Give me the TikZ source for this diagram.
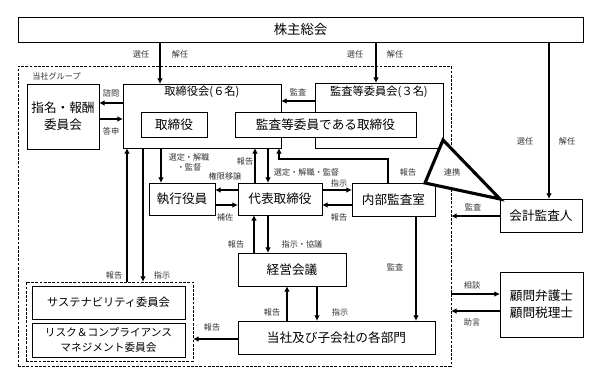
\documentclass[tikz,border=0pt]{standalone}
\usepackage{fontspec}
\setmainfont{Noto Sans CJK JP}
\usetikzlibrary{arrows.meta}

\begin{document}
\begin{tikzpicture}[x=0.025cm,y=-0.025cm,>={Latex[length=4pt,width=4pt]},
  sz/.style 2 args={minimum width=#1*0.025cm,minimum height=#2*0.025cm},
  box/.style={draw,line width=0.6pt,fill=white,inner sep=0pt,outer sep=0pt,align=center,font=\fontsize{9}{12}\selectfont},
  grp/.style={draw,line width=0.6pt,dash pattern=on 2pt off 1pt,inner sep=0pt,outer sep=0pt},
  arr/.style={->,line width=1.3pt},
  lbl/.style={inner sep=0pt,text=black!80,font=\fontsize{5.8}{7}\selectfont},
  ttl/.style={inner sep=0pt,font=\fontsize{8}{10}\selectfont}]
  \useasboundingbox (0,0) rectangle (600,375);
  % group frames
  \node[grp,sz={433}{300}] (grp) at (234.5,216) {};
  \node[lbl,anchor=west] (grpname) at (32,76) {当社グループ};
  % boxes
  \node[box,sz={565}{25},font=\fontsize{9.5}{12}\selectfont] (kabu) at (300.5,29.5) {株主総会};
  \node[box,sz={158}{64}] (torikai) at (202,116) {}; \node[ttl] (torikaittl) at (202,92) {取締役会(６名)};
  \node[box,sz={128}{65}] (kansakai) at (379,115.5) {}; \node[ttl] (kansakaittl) at (379,92) {監査等委員会(３名)};
  \node[box,sz={66}{25}] (tori) at (174,124.5) {取締役};
  \node[box,sz={181}{25}] (kansatori) at (325.5,124.5) {監査等委員である取締役};
  \node[box,sz={72}{65}] (shimei) at (63,116.5) {指名・報酬\\委員会};
  \node[box,sz={66}{32}] (shikkou) at (182,199) {執行役員};
  \node[box,sz={84}{32}] (daihyo) at (280,199) {代表取締役};
  \node[box,sz={83}{33}] (naibu) at (393.5,199.5) {内部監査室};
  \node[box,sz={82}{33}] (kaikei) at (541,215.5) {会計監査人};
  \node[box,sz={108}{33}] (keiei) at (292,269.5) {経営会議};
  \node[box,sz={197}{33}] (bumon) at (336.5,337.5) {当社及び子会社の各部門};
  \node[box,sz={83}{65}] (komon) at (541.5,304.5) {顧問弁護士\\顧問税理士};
  \node[grp,sz={167}{79}] (iinkai) at (109.5,321.5) {};
  \node[box,sz={153}{33},font=\fontsize{8}{10}\selectfont] (sust) at (108.5,302.5) {サステナビリティ委員会};
  \node[box,sz={153}{34},font=\fontsize{7.6}{10}\selectfont] (risk) at (108.5,340) {リスク＆コンプライアンス\\マネジメント委員会};
  % arrows from the shareholders
  \draw[arr] (kabu.south -| 160,0) -- (torikai.north -| 160,0);
  \node[lbl] (sen1) at (141,54) {選任}; \node[lbl] (kai1) at (180,54) {解任};
  \draw[arr] (kabu.south -| 376,0) -- (kansakai.north -| 376,0);
  \node[lbl] (sen2) at (355,54) {選任}; \node[lbl] (kai2) at (395,54) {解任};
  \draw[arr] (kabu.south -| 549,0) -- (kaikei.north -| 549,0);
  \node[lbl] (sen3) at (525,141) {選任}; \node[lbl] (kai3) at (567,141) {解任};
  % board
  \draw[arr] (kansakai.west |- 0,101) -- (torikai.east |- 0,101); \node[lbl] (kansa1) at (298,92) {監査};
  \draw[arr] (torikai.west |- 0,103) -- (shimei.east |- 0,103); \node[lbl] (shimon) at (111,93) {諮問};
  \draw[arr] (shimei.east |- 0,119) -- (torikai.west |- 0,119); \node[lbl] (toushin) at (111,131) {答申};
  \draw[arr] (torikai.south -| 161,0) -- (shikkou.north -| 161,0);
  \node[lbl,align=center] (sentei1) at (189,162) {選定・解職\\・監督};
  \draw[arr] (daihyo.north -| 255,0) -- (torikai.south -| 255,0); \node[lbl] (hou1) at (245,161) {報告};
  \draw[arr] (torikai.south -| 268,0) -- (daihyo.north -| 268,0); \node[lbl] (sentei2) at (306.5,172) {選定・解職・監督};
  \draw[arr] (naibu.north -| 388,0) |- (279,159) -- (torikai.south -| 279,0); \node[lbl] (hou2) at (408,172) {報告};
  % executives
  \draw[arr] (daihyo.west |- 0,190) -- (shikkou.east |- 0,190); \node[lbl] (kengen) at (225,176) {権限移譲};
  \draw[arr] (shikkou.east |- 0,205) -- (daihyo.west |- 0,205); \node[lbl] (hosa) at (225,217) {補佐};
  \draw[arr] (daihyo.east |- 0,190) -- (naibu.west |- 0,190); \node[lbl] (shiji1) at (339,183) {指示};
  \draw[arr] (naibu.west |- 0,205) -- (daihyo.east |- 0,205); \node[lbl] (hou3) at (339,217) {報告};
  \draw[arr] (keiei.north -| 254,0) -- (daihyo.south -| 254,0); \node[lbl] (hou4) at (236,244) {報告};
  \draw[arr] (daihyo.south -| 268,0) -- (keiei.north -| 268,0); \node[lbl] (kyogi) at (302,244) {指示・協議};
  \draw[arr] (bumon.north -| 287,0) -- (keiei.south -| 287,0); \node[lbl] (hou5) at (272,312) {報告};
  \draw[arr] (keiei.south -| 317,0) -- (bumon.north -| 317,0); \node[lbl] (shiji2) at (340,312) {指示};
  \draw[arr] (naibu.south -| 416,0) -- (bumon.north -| 416,0); \node[lbl] (kansa2) at (395,267) {監査};
  % committees
  \draw[arr] (bumon.west |- 0,339) -- (iinkai.east |- 0,339); \node[lbl] (hou6) at (212,327) {報告};
  \draw[arr] (iinkai.north -| 127,0) -- (torikai.south -| 127,0); \node[lbl] (hou7) at (114,275) {報告};
  \draw[arr] (torikai.south -| 143,0) -- (iinkai.north -| 143,0); \node[lbl] (shiji3) at (162,275) {指示};
  % outside
  \draw[arr] (kaikei.west |- 0,216) -- (grp.east |- 0,216); \node[lbl] (kansa3) at (473,207) {監査};
  \draw[arr] (grp.east |- 0,294) -- (komon.west |- 0,294); \node[lbl] (soudan) at (472,285) {相談};
  \draw[arr] (komon.west |- 0,311) -- (grp.east |- 0,311); \node[lbl] (jogen) at (472,322) {助言};
  \draw[line width=2.2pt,fill=white] (kansakai.east |- 0,140) -- (naibu.north -| 425,0) -- (kaikei.north west) -- cycle;
  \node[lbl] (renkei) at (452,172) {連携};
\end{tikzpicture}
\end{document}
